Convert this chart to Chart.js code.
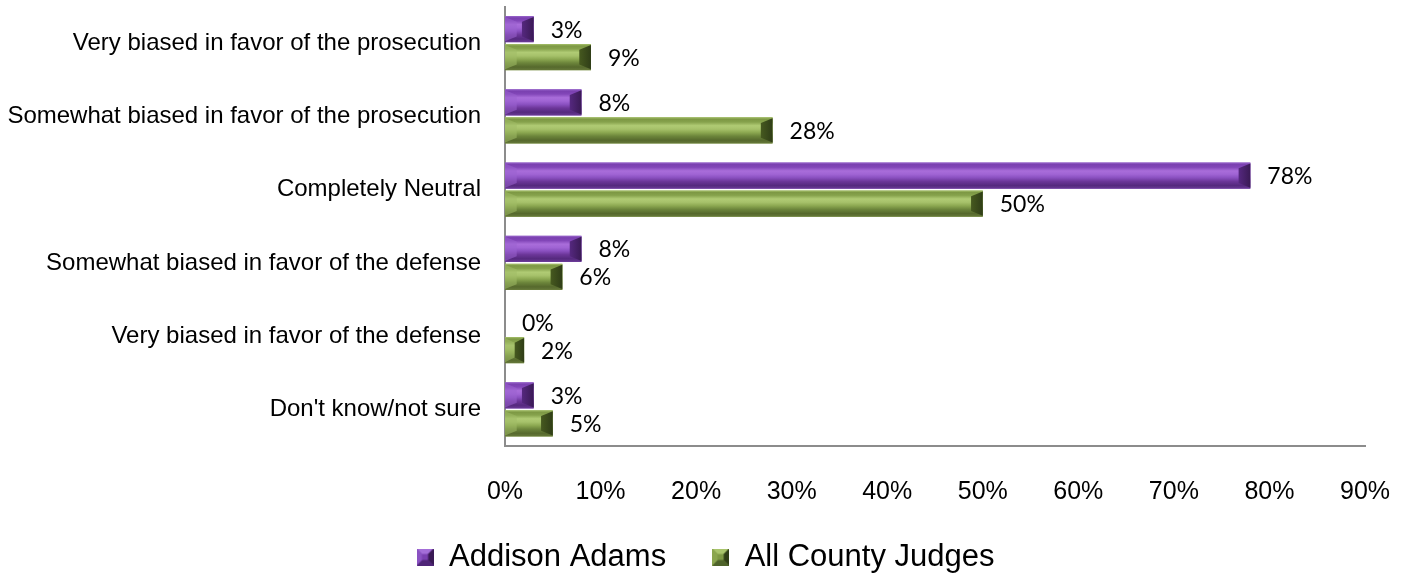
<!DOCTYPE html>
<html>
<head>
<meta charset="utf-8">
<script src="https://cdn.jsdelivr.net/npm/chart.js@4.4.1/dist/chart.umd.min.js"></script>
<style>
  html, body { margin: 0; padding: 0; background: #fff; }
  #wrap { width: 1409px; height: 573px; position: relative; }
</style>
</head>
<body>
<div id="wrap"><canvas id="chart"></canvas></div>
<script>
// Datos
const categories = [
    'Very biased in favor of the prosecution',
    'Somewhat biased in favor of the prosecution',
    'Completely Neutral',
    'Somewhat biased in favor of the defense',
    'Very biased in favor of the defense',
    "Don't know/not sure"
];
const seriesNames = ['Addison Adams', 'All County Judges'];
const addisonAdams = [3, 8, 78, 8, 0, 3];
const allCountyJudges = [9, 28, 50, 6, 2, 5];

// Paletas para el efecto biselado (bandas de arriba a abajo + extremos)
const palettes = [
    {
        base: '#8450bd',
        bands: [[0, '#9a66cc'], [0.07, '#7a40b0'], [0.18, '#8246b8'], [0.32, '#a96dda'], [0.45, '#a064d4'],
                [0.58, '#8a50c0'], [0.72, '#6c3699'], [0.88, '#55297e'], [1, '#6a3a95']],
        capDark: '#3a1a55', capDark2: '#55287f', capLight: '#9a62cf',
        icon: { top: '#a46ed8', bottom: '#4f2578', left: '#8a52c2', right: '#3a1a55', face: '#7a40b0' }
    },
    {
        base: '#86a04a',
        bands: [[0, '#a7c26c'], [0.07, '#7d9844'], [0.18, '#86a24c'], [0.32, '#b0cb74'], [0.45, '#a6c16a'],
                [0.58, '#8ca851'], [0.72, '#6c853b'], [0.88, '#56692d'], [1, '#66793a']],
        capDark: '#2f3d17', capDark2: '#46591f', capLight: '#a0bb66',
        icon: { top: '#a9c46c', bottom: '#4e632a', left: '#8aa54e', right: '#2f3d17', face: '#7d9844' }
    }
];

function poly(ctx, pts, color) {
    ctx.beginPath();
    ctx.moveTo(pts[0][0], pts[0][1]);
    for (let k = 1; k < pts.length; k++) ctx.lineTo(pts[k][0], pts[k][1]);
    ctx.closePath();
    ctx.fillStyle = color;
    ctx.fill();
}

function drawBevelBar(ctx, left, top, w, h, pal) {
    const right = left + w, bot = top + h;
    const g = ctx.createLinearGradient(0, top, 0, bot);
    pal.bands.forEach(s => g.addColorStop(s[0], s[1]));
    ctx.fillStyle = g;
    ctx.fillRect(left, top, w, h);
    const bx = Math.min(h * 0.45, w / 2);
    const bt = h * 0.22;
    // extremo derecho oscuro
    const gr = ctx.createLinearGradient(right - bx, 0, right, 0);
    gr.addColorStop(0, pal.capDark2);
    gr.addColorStop(1, pal.capDark);
    poly(ctx, [[right, top + 1], [right - bx, top + bt], [right - bx, bot - bt], [right, bot - 1]], gr);
    // extremo izquierdo claro
    ctx.globalAlpha = 0.55;
    poly(ctx, [[left, top + 1], [left + bx, top + bt], [left + bx, bot - bt], [left, bot - 1]], pal.capLight);
    ctx.globalAlpha = 1;
}

function drawIcon(ctx, s, c) {
    const b = s * 0.32;
    ctx.fillStyle = c.face;
    ctx.fillRect(0, 0, s, s);
    poly(ctx, [[0, 0], [s, 0], [s - b, b], [b, b]], c.top);
    poly(ctx, [[0, s], [s, s], [s - b, s - b], [b, s - b]], c.bottom);
    poly(ctx, [[0, 0], [b, b], [b, s - b], [0, s]], c.left);
    poly(ctx, [[s, 0], [s - b, b], [s - b, s - b], [s, s]], c.right);
}

// Iconos de la leyenda (cuadrito biselado)
const legendIcons = palettes.map(pal => {
    const c = document.createElement('canvas');
    c.width = 17; c.height = 17;
    drawIcon(c.getContext('2d'), 17, pal.icon);
    return c;
});

// Plugin: biselado de barras + etiquetas de valor
const bevelBars = {
    id: 'bevelBars',
    afterLayout(chart) {
        // centrar la leyenda como en el original
        chart.legend.left += 23;
        chart.legend.right += 23;
        // que no se recorten las etiquetas del eje X
        chart.scales.x.bottom = chart.height;
    },
    afterDatasetsDraw(chart) {
        const ctx = chart.ctx;
        ctx.save();
        chart.data.datasets.forEach((ds, i) => {
            const meta = chart.getDatasetMeta(i);
            meta.data.forEach((bar, j) => {
                const p = bar.getProps(['x', 'y', 'base', 'height'], true);
                const left = Math.min(p.x, p.base), right = Math.max(p.x, p.base);
                const w = right - left;
                if (w >= 0.5) drawBevelBar(ctx, left, p.y - p.height / 2, w, p.height, palettes[i]);
                ctx.fillStyle = '#000';
                ctx.font = '23px Lato';
                ctx.textAlign = 'left';
                ctx.textBaseline = 'middle';
                ctx.fillText(ds.data[j] + '%', right + 17, p.y + 1);
            });
        });
        ctx.restore();
    }
};

function noPad(scale) {
    scale.paddingTop = 0;
    scale.paddingBottom = 0;
    scale.paddingLeft = 0;
    scale.paddingRight = 0;
}

new Chart(document.getElementById('chart'), {
    type: 'bar',
    data: {
        labels: categories,
        datasets: [
            { label: seriesNames[0], data: addisonAdams, backgroundColor: palettes[0].base },
            { label: seriesNames[1], data: allCountyJudges, backgroundColor: palettes[1].base }
        ]
    },
    options: {
        indexAxis: 'y',
        responsive: true,
        maintainAspectRatio: false,
        animation: false,
        categoryPercentage: 0.765,
        barPercentage: 0.93,
        layout: { padding: { left: 0, right: 44, top: 6.5, bottom: -9.5 } },
        scales: {
            x: {
                min: 0,
                max: 90,
                grid: { display: false, drawTicks: false },
                border: { display: true, color: '#8c8c8c', width: 2 },
                ticks: {
                    stepSize: 10,
                    padding: 31,
                    color: '#000',
                    font: { family: 'Liberation Sans', size: 25 },
                    callback: v => v + '%'
                },
                afterFit: scale => { scale.height = 49.5; noPad(scale); }
            },
            y: {
                grid: { display: false, drawTicks: false },
                border: { display: true, color: '#8c8c8c', width: 2 },
                ticks: {
                    padding: 24,
                    color: '#000',
                    font: { family: 'Liberation Sans', size: 24 }
                },
                afterFit: scale => { scale.width = 505; noPad(scale); }
            }
        },
        plugins: {
            tooltip: { enabled: false },
            legend: {
                position: 'bottom',
                labels: {
                    usePointStyle: true,
                    boxWidth: 17,
                    boxHeight: 17,
                    padding: 46,
                    color: '#000',
                    font: { family: 'Liberation Sans', size: 31 },
                    generateLabels(chart) {
                        const items = Chart.defaults.plugins.legend.labels.generateLabels(chart);
                        items.forEach((it, i) => { it.pointStyle = legendIcons[i]; });
                        return items;
                    }
                }
            }
        }
    },
    plugins: [bevelBars]
});
</script>
</body>
</html>
